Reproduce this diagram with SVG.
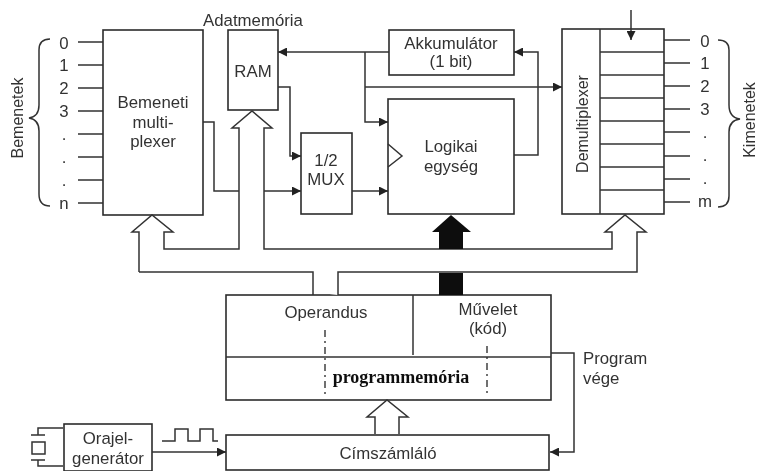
<svg xmlns="http://www.w3.org/2000/svg" width="758" height="474" viewBox="0 0 758 474">
<style>
text{font-family:"Liberation Sans",Arial,sans-serif;font-size:16.8px;fill:#333;text-anchor:middle;dominant-baseline:central}
.r{font-size:16px}
.s{font-family:"Liberation Serif","Times New Roman",serif;font-weight:bold;font-size:18px;fill:#111}
.b{fill:#fff;stroke:#2a2a2a;stroke-width:1.6}
.l{fill:none;stroke:#333;stroke-width:1.5}
.a{fill:none;stroke:#333;stroke-width:1.5}
.w{fill:#fff;stroke:#333;stroke-width:1.5}
.d{fill:none;stroke:#333;stroke-width:1.4;stroke-dasharray:7 4 2 4}
</style>
<defs>
<marker id="h" markerUnits="userSpaceOnUse" markerWidth="10" markerHeight="9" refX="9" refY="4.5" orient="auto"><path d="M0 0L9 4.5L0 9Z" fill="#222"/></marker>
<filter id="soft" x="0" y="0" width="100%" height="100%"><feGaussianBlur stdDeviation="0.45"/></filter>
</defs>
<rect width="758" height="474" fill="#fff"/>
<g filter="url(#soft)">
<g id="bemeneti"><rect class="b" x="103" y="30" width="100" height="185"/><text x="153" y="102">Bemeneti</text><text x="153" y="122">multi-</text><text x="153" y="141">plexer</text></g>
<g id="ram"><rect class="b" x="228" y="30" width="50" height="80"/><text x="253" y="71">RAM</text><text x="253" y="20">Adatmemória</text></g>
<g id="mux"><rect class="b" x="301" y="133" width="51" height="81"/><text x="326" y="160">1/2</text><text x="326" y="179">MUX</text></g>
<g id="akkumulator"><rect class="b" x="389" y="30" width="125" height="45"/><text x="451" y="43">Akkumulátor</text><text x="451" y="61">(1 bit)</text></g>
<g id="logikai"><rect class="b" x="388" y="99" width="126" height="115"/><path class="l" d="M388 144L402 156L388 167"/><text x="451" y="146">Logikai</text><text x="451" y="166">egység</text></g>
<g id="demux"><rect class="b" x="562" y="29" width="102" height="185"/><path class="l" d="M600 29V214M600 52H664M600 75H664M600 98H664M600 121H664M600 144H664M600 167H664M600 190H664"/><text class="r" transform="translate(582 124) rotate(-90)">Demultiplexer</text></g>
<g id="programmemoria"><rect class="b" x="226" y="295" width="325" height="105"/><path class="l" d="M226 357H551M413 295V355"/><path class="d" d="M325 330V394M487 346V395"/><text x="326" y="312">Operandus</text><text x="488" y="309">Művelet</text><text x="488" y="328">(kód)</text><text class="s" x="401" y="377">programmemória</text><text x="583" y="358" style="text-anchor:start">Program</text><text x="583" y="378" style="text-anchor:start">vége</text></g>
<g id="cimszamlalo"><rect class="b" x="226" y="435" width="323" height="35"/><text x="388" y="453">Címszámláló</text></g>
<g id="orajel"><rect class="b" x="64" y="424" width="88" height="47"/><text x="108" y="438">Orajel-</text><text x="108" y="458">generátor</text></g>
<g id="connectors">
<path class="l" d="M78 42H103M78 65H103M78 88H103M78 111H103M78 134H103M78 157H103M78 180H103M78 203H103"/>
<path class="l" d="M664 40H690M664 63H690M664 86H690M664 109H690M664 132H690M664 156H690M664 179H690M664 202H690"/>
<path class="l" d="M50 39C42 39 39 43 39 50V105C39 112 36 117 29 118C36 119 39 124 39 131V194C39 201 42 206 50 206"/>
<path class="l" d="M718 40C726 40 729 44 729 50V105C729 112 732 118 740 119C732 120 729 125 729 132V196C729 203 726 207 718 207"/>
<path class="a" marker-end="url(#h)" d="M389 52H278"/>
<path class="a" marker-end="url(#h)" d="M365 52V122H388"/>
<path class="a" marker-end="url(#h)" d="M365 87H562"/>
<path class="a" marker-end="url(#h)" d="M514 155H538V52H514"/>
<path class="a" marker-end="url(#h)" d="M278 87H290V156H301"/>
<path class="a" marker-end="url(#h)" d="M203 122H214V191H301"/>
<path class="a" marker-end="url(#h)" d="M352 191H388"/>
<path class="a" marker-end="url(#h)" d="M631 10V40"/>
<path class="a" marker-end="url(#h)" d="M551 353H574V452H550"/>
<path class="a" marker-end="url(#h)" d="M152 452H226"/>
<path class="l" d="M162 441H175V429H188V441H200V429H213V441H218"/>
<path class="l" d="M63 428H38V435M31 435H45M31 460H45M38 460V466H63"/>
<rect class="l" x="32" y="442" width="13" height="12"/>
<path class="w" d="M139 272V232H132L152 215L173 232H164V249H239V128H232L252 111L272 128H264V249H612V232H605L625 215L646 232H637V272H338V295"/>
<path class="l" d="M139 272H313V295"/>
<path fill="#111" d="M451 215L471 232H463V249H439V232H432Z"/>
<rect x="439" y="273" width="24" height="22" fill="#111"/>
<path class="w" d="M375 434V417H367L387 400L408 417H399V434"/>
</g>
<g id="labels">
<text x="64" y="43">0</text><text x="64" y="65">1</text><text x="64" y="88">2</text><text x="64" y="111">3</text><text x="64" y="134">.</text><text x="64" y="157">.</text><text x="64" y="180">.</text><text x="64" y="203">n</text>
<text x="705" y="41">0</text><text x="705" y="63">1</text><text x="705" y="86">2</text><text x="705" y="109">3</text><text x="705" y="132">.</text><text x="705" y="155">.</text><text x="705" y="178">.</text><text x="705" y="201">m</text>
<text class="r" transform="translate(17 118) rotate(-90)">Bemenetek</text>
<text class="r" transform="translate(749 120) rotate(-90)">Kimenetek</text>
</g>
</g>
</svg>
